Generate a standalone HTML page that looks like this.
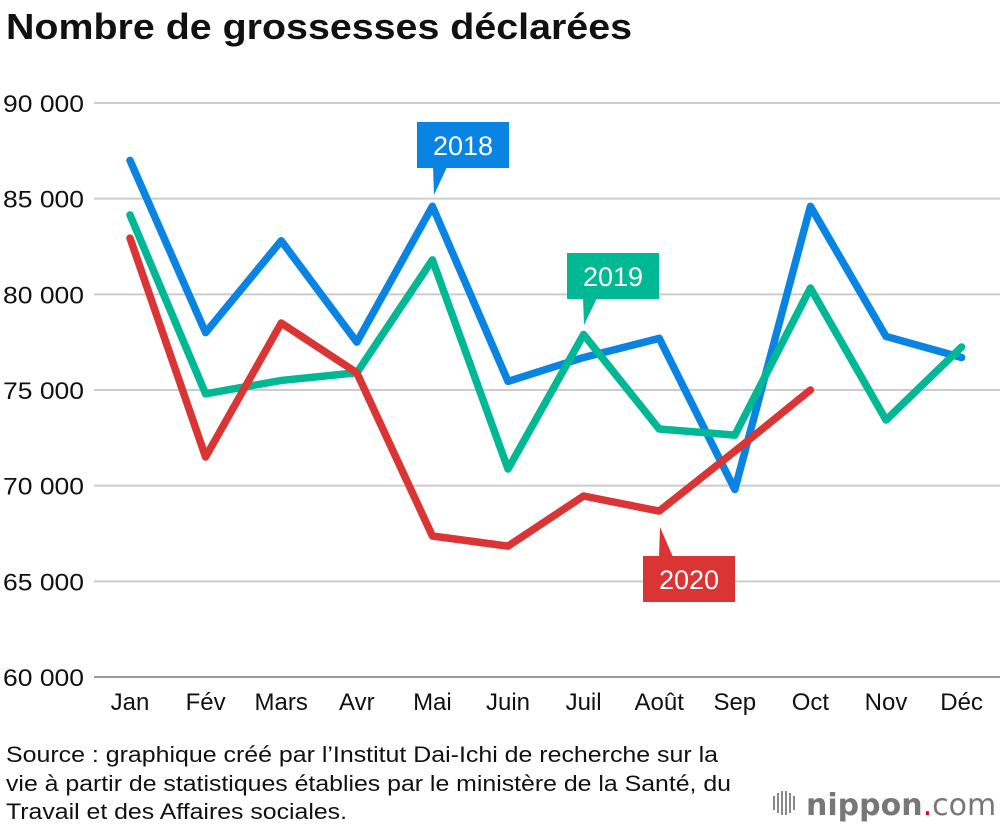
<!DOCTYPE html>
<html><head><meta charset="utf-8"><style>
body{margin:0;background:#fff;font-family:"Liberation Sans",Arial,sans-serif;}
#wrap{position:relative;width:1000px;height:826px;overflow:hidden}
</style></head><body><div id="wrap">
<svg id="chart" width="1000" height="826" font-family="Liberation Sans, Arial, sans-serif">
<text x="6" y="39" font-size="36" font-weight="bold" fill="#111" textLength="626" lengthAdjust="spacingAndGlyphs">Nombre de grossesses déclarées</text>
<g id="grid"></g>
<g id="xt"></g>
<g id="lines"></g>
<g id="labels"></g>
<text font-size="22" fill="#111"><tspan x="6" y="762" textLength="712" lengthAdjust="spacingAndGlyphs">Source : graphique créé par l’Institut Dai-Ichi de recherche sur la</tspan><tspan x="6" y="791" textLength="725" lengthAdjust="spacingAndGlyphs">vie à partir de statistiques établies par le ministère de la Santé, du</tspan><tspan x="6" y="819" textLength="341" lengthAdjust="spacingAndGlyphs">Travail et des Affaires sociales.</tspan></text>
<g fill="#888">
<rect x="773" y="796" width="2" height="14"/><rect x="777" y="793" width="2" height="20"/><rect x="781" y="791" width="2" height="24"/><rect x="785" y="791" width="2" height="24"/><rect x="789" y="793" width="2" height="20"/><rect x="793" y="796" width="2" height="14"/>
<text x="806" y="815" font-size="30" font-family="DejaVu Sans, sans-serif" fill="#777"><tspan font-weight="bold">nippon</tspan><tspan fill="#e60012">.</tspan><tspan>com</tspan></text>
</g>
</svg>
<script>
const months=["Jan","Fév","Mars","Avr","Mai","Juin","Juil","Août","Sep","Oct","Nov","Déc"];
const yTicks=[60000,65000,70000,75000,80000,85000,90000];
const yTickLabels=["60 000","65 000","70 000","75 000","80 000","85 000","90 000"];
const s2018=[87000,78000,82800,77500,84600,75450,76700,77700,69800,84600,77800,76700];
const s2019=[84150,74800,75500,75900,81800,70870,77900,72960,72640,80330,73430,77250];
const s2020=[82940,71500,78500,75900,67370,66840,69460,68670,71800,75000];
const NS="http://www.w3.org/2000/svg";
function x(i){return 130+i*75.6;}
function y(v){return 677-(v-60000)/30000*574;}
function mk(t,a,p){const e=document.createElementNS(NS,t);for(const k in a)e.setAttribute(k,a[k]);p.appendChild(e);return e;}
const grid=document.getElementById('grid');
yTicks.forEach((v,i)=>{
 const l=mk('line',{x1:94,x2:1000,y1:y(v),y2:y(v),stroke:i==0?'#999':'#ccc','stroke-width':2},grid);
 
 
 const t=mk('text',{x:3,y:y(v)+9,'font-size':24,fill:'#111',textLength:81,lengthAdjust:'spacingAndGlyphs'},grid);t.textContent=yTickLabels[i];
 
 
});
const xt=document.getElementById('xt');
months.forEach((m,i)=>{const t=mk('text',{x:x(i),y:710,'font-size':24,fill:'#111','text-anchor':'middle'},xt);t.textContent=m;
 
 });
const lines=document.getElementById('lines');
[[s2018,'#0a84e3','line-2018'],[s2019,'#00b894','line-2019'],[s2020,'#db3434','line-2020']].forEach(([s,c,n])=>{
 const p=mk('polyline',{points:s.map((v,i)=>x(i)+','+y(v)).join(' '),fill:'none',stroke:c,'stroke-width':7.5,'stroke-linejoin':'round','stroke-linecap':'round'},lines);
 
 
});
const lab=document.getElementById('labels');
function label(txt,c,bx,by,tipX,tipY,up,n){
 const g=mk('g',{},lab);
 
 
 mk('rect',{x:bx,y:by,width:92,height:46,fill:c},g);
 if(!up) mk('polygon',{points:`${bx+16},${by+45} ${bx+30},${by+45} ${tipX},${tipY}`,fill:c},g);
 else mk('polygon',{points:`${bx+16},${by+1} ${bx+30},${by+1} ${tipX},${tipY}`,fill:c},g);
 const t=mk('text',{x:bx+46,y:by+33,'font-size':27,fill:'#fff','text-anchor':'middle'},g);t.textContent=txt;
}
label('2018','#0a84e3',417,122,434,195,false,'label-2018');
label('2019','#00b894',567,253,584,325,false,'label-2019');
label('2020','#db3434',643,556,660,527,true,'label-2020');
</script></div></body></html>
